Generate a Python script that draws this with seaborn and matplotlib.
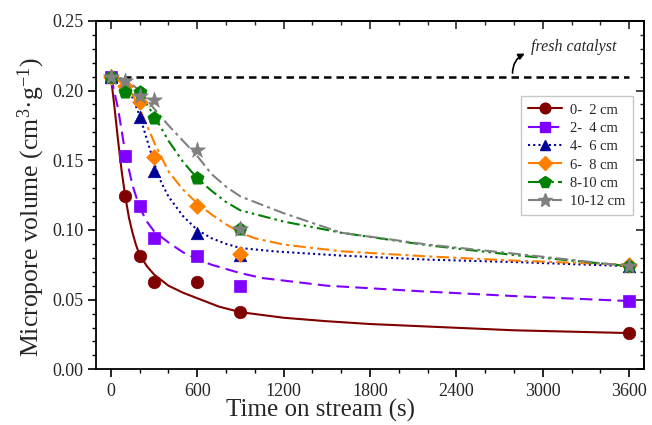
import numpy as np
import pandas as pd
import matplotlib
matplotlib.use("Agg")
import matplotlib.pyplot as plt
from matplotlib.lines import Line2D
from matplotlib.ticker import MultipleLocator
import seaborn as sns

# ---------------- data ----------------
labels = ["0-  2 cm", "2-  4 cm", "4-  6 cm", "6-  8 cm", "8-10 cm", "10-12 cm"]
time_pts = [0, 100, 200, 300, 600, 900, 3600]

pts_0_2 = [0.210, 0.124, 0.081, 0.063, 0.063, 0.041, 0.026]
pts_2_4 = [0.210, 0.153, 0.117, 0.094, 0.081, 0.060, 0.049]
pts_4_6 = [0.210, 0.205, 0.181, 0.142, 0.098, 0.082, 0.074]
pts_6_8 = [0.210, 0.203, 0.192, 0.152, 0.117, 0.083, 0.075]
pts_8_10 = [0.210, 0.199, 0.199, 0.180, 0.137, 0.101, 0.074]
pts_10_12 = [0.210, 0.207, 0.196, 0.193, 0.157, 0.101, 0.074]

# fitted curves
fit_t_0_2 = [0, 25, 50, 75, 100, 125, 150, 175, 200, 250, 300, 350, 400, 500, 600, 750, 900, 1200, 1500, 1800, 2200, 2800, 3600]
fit_v_0_2 = [0.210, 0.188, 0.164, 0.142, 0.124, 0.109, 0.098, 0.089, 0.082, 0.074, 0.068, 0.064, 0.060, 0.055, 0.051, 0.045, 0.041, 0.037, 0.0345, 0.0325, 0.0307, 0.028, 0.026]

fit_t_2_4 = [0, 50, 100, 150, 200, 250, 300, 400, 500, 600, 700, 900, 1050, 1500, 2150, 2850, 3600]
fit_v_2_4 = [0.210, 0.187, 0.155, 0.132, 0.116, 0.106, 0.099, 0.091, 0.084, 0.079, 0.075, 0.069, 0.0655, 0.060, 0.056, 0.0523, 0.049]

fit_t_4_6 = [0, 100, 150, 200, 250, 300, 350, 400, 450, 500, 600, 700, 800, 900, 1150, 1600, 2200, 2850, 3600]
fit_v_4_6 = [0.210, 0.206, 0.195, 0.182, 0.165, 0.148, 0.134, 0.124, 0.117, 0.110, 0.100, 0.094, 0.090, 0.087, 0.0845, 0.0816, 0.0787, 0.0768, 0.074]

fit_t_6_8 = [0, 100, 150, 200, 250, 300, 400, 500, 600, 700, 800, 900, 1000, 1200, 1600, 2200, 2800, 3600]
fit_v_6_8 = [0.210, 0.204, 0.197, 0.187, 0.175, 0.163, 0.142, 0.129, 0.119, 0.111, 0.104, 0.098, 0.094, 0.0895, 0.0847, 0.081, 0.078, 0.075]

fit_t_8_10 = [0, 100, 200, 300, 400, 500, 600, 700, 800, 900, 1200, 1600, 2200, 2800, 3600]
fit_v_8_10 = [0.210, 0.208, 0.198, 0.182, 0.164, 0.149, 0.137, 0.128, 0.120, 0.114, 0.106, 0.098, 0.089, 0.082, 0.074]

fit_t_10_12 = [0, 100, 200, 300, 400, 500, 600, 700, 800, 900, 1200, 1600, 2200, 2800, 3600]
fit_v_10_12 = [0.210, 0.208, 0.200, 0.187, 0.175, 0.164, 0.153, 0.140, 0.131, 0.124, 0.112, 0.098, 0.0895, 0.083, 0.074]

fresh_value = 0.21
fresh_span = [0, 3600]

# ---------------- styles ----------------
colors = ["#800000", "#8000FF", "#000099", "#FF8000", "#008000", "#808080"]
markers = ["o", "s", "^", "D", "p", "*"]
msizes = [9, 8, 9, 8, 10, 12]
dashes = [(None, None), (6, 3), (1, 1.5), (6, 2, 1.5, 2), (6, 2, 1.2, 2, 1.2, 2), (6, 2, 1.5, 2)]

sns.set_theme(style="ticks")
plt.rcParams["font.family"] = ["Liberation Serif", "DejaVu Serif"]
plt.rcParams["mathtext.fontset"] = "custom"
plt.rcParams["mathtext.rm"] = "Liberation Serif"
plt.rcParams["mathtext.it"] = "Liberation Serif:italic"

fig = plt.figure(figsize=(6.52, 4.25), dpi=100)
ax = fig.add_axes([0.148, 0.131, 0.839, 0.820])

pts_all = [pts_0_2, pts_2_4, pts_4_6, pts_6_8, pts_8_10, pts_10_12]
fits_all = [(fit_t_0_2, fit_v_0_2), (fit_t_2_4, fit_v_2_4), (fit_t_4_6, fit_v_4_6),
            (fit_t_6_8, fit_v_6_8), (fit_t_8_10, fit_v_8_10), (fit_t_10_12, fit_v_10_12)]

# fresh catalyst reference line
ref = pd.DataFrame({"t": fresh_span, "v": [fresh_value, fresh_value]})
sns.lineplot(data=ref, x="t", y="v", ax=ax, color="black", lw=1.8, zorder=2)
ax.lines[-1].set_dashes((3, 2))

for i in range(6):
    ft, fv = fits_all[i]
    dfc = pd.DataFrame({"t": ft, "v": fv})
    sns.lineplot(data=dfc, x="t", y="v", ax=ax, color=colors[i], lw=1.5,
                 zorder=3 + i * 0.1, sort=False)
    l = ax.lines[-1]
    if dashes[i][0] is not None:
        l.set_dashes(dashes[i])

for i in range(6):
    dfp = pd.DataFrame({"t": time_pts, "v": pts_all[i]})
    sns.scatterplot(data=dfp, x="t", y="v", ax=ax, color=colors[i], marker=markers[i],
                    s=msizes[i] ** 2, edgecolor=colors[i], linewidth=0.5, zorder=5 + i * 0.1)

ax.set_xlim(-100, 3700)
ax.set_ylim(0, 0.25)
ax.xaxis.set_major_locator(MultipleLocator(600))
ax.xaxis.set_minor_locator(MultipleLocator(200))
ax.yaxis.set_major_locator(MultipleLocator(0.05))
ax.yaxis.set_minor_locator(MultipleLocator(0.01))
ax.yaxis.set_major_formatter(matplotlib.ticker.FormatStrFormatter("%.2f"))

ax.tick_params(axis="both", which="major", labelsize=13, length=6, width=1.2, color="black",
               direction="out")
ax.tick_params(axis="both", which="minor", length=3, width=1.0, color="black", direction="out")
# inward ticks on top/right via secondary axes
secx = ax.secondary_xaxis("top")
secx.xaxis.set_major_locator(MultipleLocator(600))
secx.xaxis.set_minor_locator(MultipleLocator(200))
secx.tick_params(which="major", direction="in", length=6, width=1.2, labeltop=False)
secx.tick_params(which="minor", direction="in", length=3, width=1.0)
secy = ax.secondary_yaxis("right")
secy.yaxis.set_major_locator(MultipleLocator(0.05))
secy.yaxis.set_minor_locator(MultipleLocator(0.01))
secy.tick_params(which="major", direction="in", length=6, width=1.2, labelright=False)
secy.tick_params(which="minor", direction="in", length=3, width=1.0)
for s in ["top", "right", "bottom", "left"]:
    ax.spines[s].set_linewidth(1.3)
    ax.spines[s].set_color("black")
secx.spines["top"].set_linewidth(1.3)
secy.spines["right"].set_linewidth(1.3)

ax.set_xlabel("Time on stream (s)", fontsize=18, labelpad=1)
ax.xaxis.set_label_coords(0.41, -0.085)
ax.set_ylabel("Micropore volume (cm$^{3}$·g$^{-1}$)", fontsize=18.5, labelpad=4)
ax.yaxis.set_label_coords(-0.09, 0.466)

ax.text(2920, 0.2315, "fresh catalyst", fontsize=11.5, fontstyle="italic",
        va="center", ha="left")
ax.annotate("", xy=(2875, 0.2265), xytext=(2790, 0.2125),
            arrowprops=dict(arrowstyle="-|>", color="black", lw=1.2,
                            connectionstyle="arc3,rad=-0.3", shrinkA=0, shrinkB=0,
                            mutation_scale=9))

handles = []
for i in range(6):
    ls = "-" if dashes[i][0] is None else (0, dashes[i])
    handles.append(Line2D([0], [0], color=colors[i], lw=1.5, linestyle=ls,
                          marker=markers[i], markersize=msizes[i] * 0.85,
                          markerfacecolor=colors[i], markeredgecolor=colors[i]))
leg = ax.legend(handles, labels, loc="upper right", bbox_to_anchor=(0.981, 0.784),
                borderaxespad=0.0,
                fontsize=10.5, frameon=True, fancybox=False, edgecolor="#BBBBBB",
                handlelength=2.3, handletextpad=0.6, borderpad=0.5, labelspacing=0.35)
leg.get_frame().set_linewidth(1.0)

fig.savefig("out.png", dpi=100)
